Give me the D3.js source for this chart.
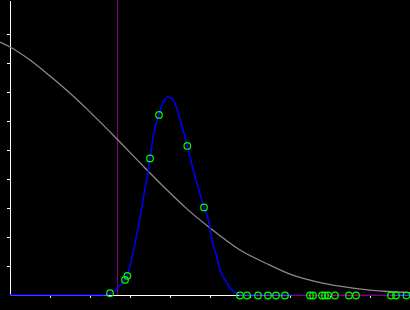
<!DOCTYPE html>
<html>
<head>
<meta charset="utf-8">
<script src="https://cdn.jsdelivr.net/npm/d3@7"></script>
<style>
  body { margin: 0; background: #000; }
</style>
</head>
<body>
<div id="container"></div>
<script>
/* CONSTANTS AND GLOBALS */
const width = 410,
  height = 310;
const margin = { left: 10, bottom: 15 };

/* DATA */
// gray falling curve (x, y)
const grayX = [-0.25, 0, 0.5, 1.0, 1.425, 1.925, 2.25, 2.675, 3.375, 3.925, 4.375, 5.0, 5.75, 6.5, 7.0, 7.75, 8.575, 9.45, 10.0];
const grayY = [0.872, 0.855, 0.810, 0.755, 0.705, 0.641, 0.597, 0.538, 0.438, 0.362, 0.303, 0.231, 0.155, 0.103, 0.072, 0.043, 0.024, 0.012, 0.008];

// blue density curve (x, y)
const blueX = [0, 2.25, 2.418, 2.583, 2.708, 2.833, 2.958, 3.043, 3.125, 3.233, 3.293, 3.375, 3.458, 3.5, 3.59, 3.725, 3.833, 3.958, 4.083, 4.25, 4.433, 4.583, 4.71, 4.85, 4.958, 5.05, 5.193, 5.25, 5.375, 5.5, 5.668, 5.8, 10.0];
const blueY = [0, 0, 0.001, 0.011, 0.027, 0.046, 0.080, 0.126, 0.178, 0.253, 0.299, 0.366, 0.431, 0.471, 0.555, 0.621, 0.668, 0.683, 0.672, 0.605, 0.514, 0.431, 0.367, 0.302, 0.259, 0.19, 0.121, 0.086, 0.052, 0.024, 0.006, 0, 0];

// sample points lying on the blue curve
const pointX = [2.5, 2.875, 2.933, 3.5, 3.725, 4.433, 4.85];
const pointY = [0.006, 0.052, 0.066, 0.471, 0.621, 0.514, 0.302];

// sample points on the baseline
const basePointX = [5.75, 5.925, 6.2, 6.45, 6.65, 6.875, 7.5, 7.575, 7.8, 7.875, 7.95, 8.125, 8.475, 8.65, 9.525, 9.65, 9.9125];

// red range on the baseline
const redRange = [7.04, 9.55];

// vertical marker
const markerX = 2.69;

// ticks
const xTicks = [1, 2, 3, 4, 5, 6, 7, 8, 9];
const yTicks = [0.1, 0.2, 0.3, 0.4, 0.5, 0.6, 0.7, 0.8, 0.9];
const yMax = 1.0172;

/* SCALES */
const xScale = d3.scaleLinear()
  .domain([0, 10])
  .range([margin.left, width]);

const yScale = d3.scaleLinear()
  .domain([0, yMax])
  .range([height - margin.bottom, 0]);

/* SVG */
const svg = d3.select("#container")
  .append("svg")
  .attr("width", width)
  .attr("height", height)
  .style("background", "#000")
  .style("display", "block");

// AXES ----------------------------------------------
svg.append("g")
  .attr("transform", `translate(0,${height - margin.bottom})`)
  .call(d3.axisBottom(xScale)
    .tickValues(xTicks)
    .tickSize(3)
    .tickSizeOuter(0)
    .tickFormat(""));

svg.append("g")
  .attr("transform", `translate(${margin.left},0)`)
  .call(d3.axisLeft(yScale)
    .tickValues(yTicks)
    .tickSize(3)
    .tickSizeOuter(0)
    .tickFormat(""));

svg.selectAll(".domain, .tick line")
  .attr("stroke", "#fff")
  .attr("shape-rendering", "crispEdges");

// CURVES ----------------------------------------------
const line = d3.line()
  .x(d => xScale(d[0]))
  .y(d => yScale(d[1]))
  .curve(d3.curveMonotoneX);

// purple marker line
svg.append("line")
  .attr("x1", xScale(markerX))
  .attr("x2", xScale(markerX))
  .attr("y1", 0)
  .attr("y2", yScale(0))
  .attr("stroke", "#800080")
  .attr("shape-rendering", "crispEdges");

svg.append("path")
  .datum(d3.zip(grayX, grayY))
  .attr("d", line)
  .attr("fill", "none")
  .attr("stroke", "#8a8a8a")
  .attr("stroke-width", 1.3);

svg.append("path")
  .datum(d3.zip(blueX, blueY))
  .attr("d", line)
  .attr("fill", "none")
  .attr("stroke", "#0000ff")
  .attr("stroke-width", 1.5);

svg.append("line")
  .attr("x1", xScale(redRange[0]))
  .attr("x2", xScale(redRange[1]))
  .attr("y1", yScale(0) + 0.5)
  .attr("y2", yScale(0) + 0.5)
  .attr("stroke", "#b40000")
  .attr("shape-rendering", "crispEdges");

// POINTS ----------------------------------------------
svg.selectAll(".base-dot")
  .data(basePointX)
  .join("circle")
  .attr("class", "base-dot")
  .attr("cx", d => xScale(d))
  .attr("cy", yScale(0) + 0.5)
  .attr("r", 0.8)
  .attr("fill", "#ff0000");

svg.selectAll(".base-ring")
  .data(basePointX)
  .join("circle")
  .attr("class", "base-ring")
  .attr("cx", d => xScale(d))
  .attr("cy", yScale(0) + 0.5)
  .attr("r", 3.3)
  .attr("fill", "none")
  .attr("stroke", "#00ff00")
  .attr("stroke-width", 1.2);

svg.selectAll(".curve-ring")
  .data(d3.zip(pointX, pointY))
  .join("circle")
  .attr("class", "curve-ring")
  .attr("cx", d => xScale(d[0]))
  .attr("cy", d => yScale(d[1]))
  .attr("r", 3.3)
  .attr("fill", "none")
  .attr("stroke", "#00ff00")
  .attr("stroke-width", 1.2);
</script>
</body>
</html>
